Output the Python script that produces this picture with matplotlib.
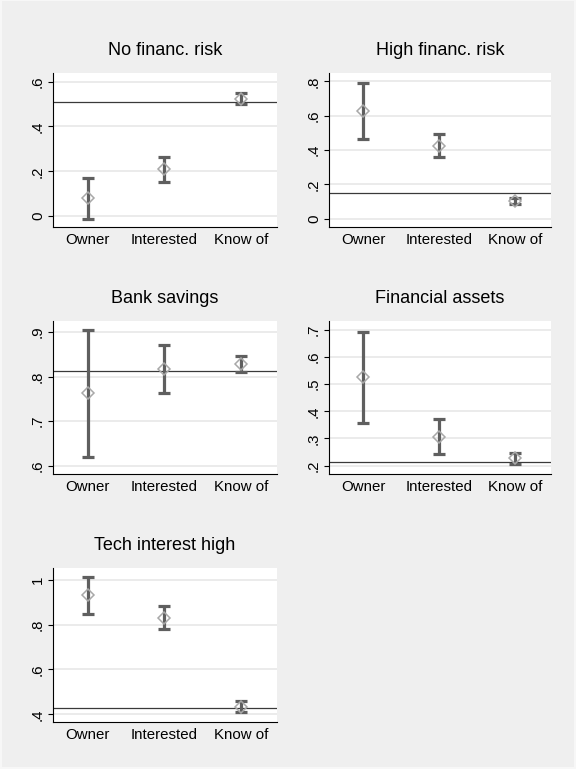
import numpy as np
import matplotlib.pyplot as plt
from matplotlib.patches import Rectangle

plt.rcParams['font.family'] = ['Liberation Sans', 'DejaVu Sans']

groups = ['Owner', 'Interested', 'Know of']

titles = ['No financ. risk', 'High financ. risk', 'Bank savings',
          'Financial assets', 'Tech interest high']

# group means, confidence bounds and the overall share (horizontal line)
means = [[0.079, 0.208, 0.521],
         [0.628, 0.423, 0.105],
         [0.762, 0.816, 0.829],
         [0.525, 0.307, 0.227],
         [0.930, 0.831, 0.434]]
lower = [[-0.012, 0.152, 0.499],
         [0.466, 0.357, 0.088],
         [0.620, 0.764, 0.810],
         [0.358, 0.243, 0.206],
         [0.846, 0.780, 0.410]]
upper = [[0.168, 0.262, 0.548],
         [0.790, 0.494, 0.121],
         [0.905, 0.870, 0.847],
         [0.694, 0.373, 0.248],
         [1.013, 0.882, 0.461]]
overall = [0.508, 0.150, 0.813, 0.215, 0.430]

yticks = [[0, 0.2, 0.4, 0.6],
          [0, 0.2, 0.4, 0.6, 0.8],
          [0.6, 0.7, 0.8, 0.9],
          [0.2, 0.3, 0.4, 0.5, 0.6, 0.7],
          [0.4, 0.6, 0.8, 1.0]]
ylims = [(-0.049, 0.639), (-0.049, 0.849), (0.581, 0.925),
         (0.169, 0.733), (0.366, 1.052)]

W, H = 576, 769
fig = plt.figure(figsize=(W / 100, H / 100), dpi=100, facecolor='#f7f7f7')
# gray graph region with a thin lighter margin
fig.patches.append(Rectangle((2 / W, 2 / H), 1 - 4 / W, 1 - 3 / H,
                             transform=fig.transFigure, facecolor='#efefef',
                             edgecolor='none', zorder=-10))

# axes boxes in pixels: left, top, right, bottom
boxes = [(53, 73, 277, 227), (329, 73, 551, 227),
         (53, 321, 277, 474), (329, 321, 551, 474),
         (53, 568, 277, 722)]

def fmt(v):
    s = ('%g' % round(v, 2))
    if s.startswith('0.'):
        s = s[1:]
    return s

x = np.arange(1, 4)
for i in range(5):
    l, t, r, b = boxes[i]
    ax = fig.add_axes([l / W, 1 - b / H, (r - l) / W, (b - t) / H])
    ax.set_facecolor('white')
    m = np.array(means[i])
    err = [m - np.array(lower[i]), np.array(upper[i]) - m]
    ax.errorbar(x, m, yerr=err, fmt='none', ecolor='#5f5f5f', elinewidth=2.3,
                capsize=4.4, capthick=2.3, zorder=3)
    ax.plot(x, m, 'D', ms=6.5, mfc='none', mec='#a8a8a8', mew=1.1, zorder=4)
    ax.axhline(overall[i], color='#3a3a3a', lw=0.9, zorder=2)
    ax.set_xlim(0.547, 3.47)
    ax.set_ylim(*ylims[i])
    ax.set_yticks(yticks[i])
    ax.set_yticklabels([fmt(v) for v in yticks[i]], rotation=90, va='center')
    ax.set_xticks(x)
    ax.set_xticklabels(groups)
    ax.grid(axis='y', color='#e6e6e6', lw=1.1, zorder=0)
    ax.set_axisbelow(True)
    for s in ['top', 'right']:
        ax.spines[s].set_visible(False)
    for s in ['left', 'bottom']:
        ax.spines[s].set_linewidth(0.8)
    ax.tick_params(axis='y', length=3.8, width=0.8, labelsize=10.8, pad=2)
    ax.tick_params(axis='x', length=0, labelsize=10.8, pad=4)
    ax.set_title(titles[i], fontsize=13, pad=13)

fig.savefig('out.png', dpi=100, facecolor=fig.get_facecolor())
